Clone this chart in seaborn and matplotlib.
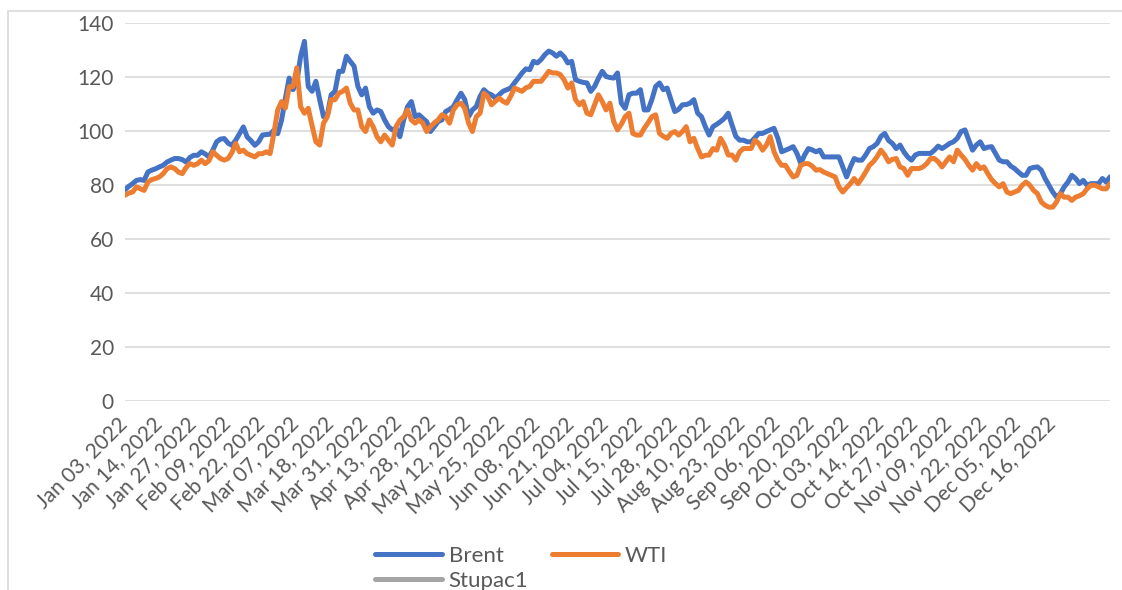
import matplotlib
matplotlib.use("Agg")
import matplotlib.pyplot as plt
import matplotlib.transforms as mtransforms
import seaborn as sns
import pandas as pd
from matplotlib.patches import Rectangle

brent = [
    78.3, 79.5, 80.5, 81.7, 82.0, 81.7, 84.8, 85.5, 86.0,
    86.7, 87.3, 88.5, 89.2, 89.8, 89.8, 89.4, 88.5, 90.2,
    91.0, 91.0, 92.3, 91.5, 90.4, 92.9, 96.0, 97.0, 97.2,
    95.5, 94.7, 96.6, 99.0, 101.5, 97.8, 96.4, 94.7, 96.0,
    98.5, 98.7, 98.8, 100.3, 99.0, 104.0, 112.0, 119.6, 115.3,
    118.0, 127.7, 133.2, 116.5, 114.7, 118.4, 111.6, 105.3, 106.0,
    113.4, 114.7, 122.1, 122.1, 127.7, 125.8, 124.0, 116.5, 113.4,
    115.9, 109.0, 106.6, 107.8, 107.2, 104.1, 101.6, 100.4, 101.0,
    97.9, 104.1, 109.0, 110.9, 105.3, 106.0, 104.7, 103.5, 99.8,
    101.6, 103.5, 104.1, 107.2, 108.0, 109.0, 111.6, 114.0, 111.6,
    105.3, 107.8, 109.0, 112.8, 115.3, 114.0, 113.4, 112.2, 113.4,
    114.7, 115.3, 115.9, 117.8, 119.6, 121.5, 123.0, 122.7, 125.8,
    125.2, 126.5, 128.3, 129.6, 128.9, 127.7, 128.9, 127.5, 125.2,
    125.8, 119.0, 118.4, 118.0, 117.8, 114.7, 116.5, 119.5, 122.1,
    120.2, 119.8, 119.6, 121.5, 110.3, 108.4, 113.4, 114.0, 114.0,
    115.3, 107.8, 107.8, 111.6, 116.5, 117.8, 115.3, 115.9, 111.6,
    107.2, 108.0, 109.7, 109.8, 110.3, 111.6, 106.6, 105.3, 101.6,
    98.5, 101.6, 102.5, 103.5, 104.7, 106.6, 102.2, 98.0, 96.6,
    96.6, 96.0, 96.0, 97.5, 99.1, 99.1, 99.8, 100.4, 101.0,
    97.3, 92.3, 92.9, 93.5, 94.2, 91.7, 88.0, 91.1, 93.5,
    93.0, 92.3, 92.9, 90.4, 90.4, 90.4, 90.4, 90.4, 86.7,
    83.0, 86.7, 89.8, 89.2, 89.2, 91.1, 93.5, 94.2, 95.4,
    98.0, 99.1, 96.5, 95.4, 93.5, 94.8, 92.3, 90.4, 89.2,
    91.1, 91.7, 91.7, 91.7, 91.7, 92.9, 94.4, 93.5, 94.4,
    95.4, 96.0, 97.3, 99.8, 100.4, 96.6, 92.9, 94.8, 96.0,
    93.5, 94.0, 94.2, 91.7, 89.2, 88.6, 88.6, 87.0, 86.1,
    84.8, 83.6, 83.6, 86.1, 86.5, 86.7, 85.5, 82.4, 79.9,
    77.4, 75.5, 76.8, 79.3, 81.1, 83.6, 82.4, 80.5, 81.7,
    79.9, 80.5, 80.5, 80.5, 82.4, 81.1, 83.0,
]

wti = [
    76.2, 77.0, 77.4, 79.3, 78.6, 78.0, 81.1, 82.0, 82.4,
    83.0, 84.2, 86.0, 86.7, 86.1, 84.8, 84.2, 86.5, 87.9,
    87.3, 87.9, 89.2, 87.9, 89.0, 92.3, 91.0, 89.8, 89.2,
    89.8, 92.0, 95.4, 92.3, 92.9, 91.6, 91.0, 90.4, 91.6,
    91.6, 92.3, 91.6, 99.1, 107.8, 110.9, 108.5, 116.4, 116.5,
    123.4, 109.0, 106.6, 108.4, 102.0, 96.0, 94.8, 102.9, 105.3,
    111.6, 111.6, 114.0, 114.7, 115.9, 110.3, 107.8, 107.8, 101.6,
    99.8, 104.1, 101.6, 97.9, 96.0, 98.5, 96.6, 94.8, 101.6,
    104.0, 105.3, 107.8, 104.1, 102.9, 104.1, 102.9, 99.8, 101.6,
    103.0, 104.1, 106.0, 105.3, 102.9, 107.8, 109.7, 110.3, 108.4,
    102.9, 99.8, 105.3, 106.6, 114.0, 112.8, 109.7, 111.0, 112.2,
    111.0, 110.3, 112.8, 115.9, 115.3, 114.7, 116.0, 116.5, 118.4,
    118.4, 118.4, 120.2, 122.1, 121.5, 121.5, 120.9, 119.0, 115.9,
    117.8, 111.6, 109.7, 110.9, 106.6, 106.0, 109.7, 113.4, 110.9,
    107.8, 110.3, 103.5, 100.4, 102.5, 105.3, 106.6, 99.1, 98.5,
    98.5, 101.0, 103.0, 105.3, 106.0, 99.1, 98.0, 97.3, 99.1,
    99.8, 98.5, 99.8, 101.6, 96.0, 97.3, 93.5, 90.4, 91.0,
    91.1, 93.5, 92.9, 97.3, 94.8, 91.1, 91.1, 89.2, 92.3,
    93.5, 93.5, 93.5, 96.6, 95.4, 92.9, 94.8, 97.9, 92.3,
    89.2, 87.3, 87.3, 85.0, 83.0, 83.6, 87.3, 87.9, 87.9,
    87.0, 85.5, 85.7, 84.8, 84.2, 83.6, 83.0, 79.3, 77.4,
    79.0, 80.5, 82.4, 80.5, 82.5, 84.8, 87.3, 88.6, 90.5,
    92.9, 91.1, 88.6, 89.5, 89.8, 86.7, 86.1, 83.6, 86.1,
    86.1, 86.1, 86.7, 87.9, 89.8, 89.8, 88.6, 86.7, 88.6,
    90.4, 88.6, 92.9, 91.1, 89.5, 87.3, 85.5, 87.9, 86.1,
    86.7, 84.2, 82.0, 80.5, 79.3, 80.5, 77.4, 76.8, 77.4,
    78.0, 79.9, 81.1, 79.9, 78.0, 76.8, 73.7, 72.5, 71.8,
    71.8, 73.7, 76.8, 75.5, 75.5, 74.3, 75.5, 76.0, 76.8,
    78.6, 79.9, 79.9, 79.3, 78.6, 78.6, 80.5,
]

tick_labels = [
    "Jan 03, 2022", "Jan 14, 2022", "Jan 27, 2022", "Feb 09, 2022",
    "Feb 22, 2022", "Mar 07, 2022", "Mar 18, 2022", "Mar 31, 2022",
    "Apr 13, 2022", "Apr 28, 2022", "May 12, 2022", "May 25, 2022",
    "Jun 08, 2022", "Jun 21, 2022", "Jul 04, 2022", "Jul 15, 2022",
    "Jul 28, 2022", "Aug 10, 2022", "Aug 23, 2022", "Sep 06, 2022",
    "Sep 20, 2022", "Oct 03, 2022", "Oct 14, 2022", "Oct 27, 2022",
    "Nov 09, 2022", "Nov 22, 2022", "Dec 05, 2022", "Dec 16, 2022",
]
tick_step = 9
y_ticks = [0, 20, 40, 60, 80, 100, 120, 140]

sns.set_theme(style="white")
plt.rcParams["font.family"] = ["Lato", "DejaVu Sans"]

n = min(len(brent), len(wti))
df = pd.DataFrame({"idx": list(range(n)), "Brent": brent[:n], "WTI": wti[:n]})

fig = plt.figure(figsize=(11.22, 5.90), dpi=100)
ax = fig.add_axes([125 / 1122, 1 - 401 / 590, (1110 - 125) / 1122, (401 - 23) / 590])

blue = "#4472C4"
orange = "#ED7D31"
gray = "#A5A5A5"
lw = 3.6

sns.lineplot(data=df, x="idx", y="Brent", ax=ax, color=blue, linewidth=lw,
             label="Brent", solid_capstyle="round", solid_joinstyle="round")
sns.lineplot(data=df, x="idx", y="WTI", ax=ax, color=orange, linewidth=lw,
             label="WTI", solid_capstyle="round", solid_joinstyle="round")
ax.plot([], [], color=gray, linewidth=lw, label="Stupac1", solid_capstyle="round")

ax.set_xlim(0, n - 1)
ax.set_ylim(0, 140)
ax.set_yticks(y_ticks)
ax.set_yticklabels([str(v) for v in y_ticks])
ax.grid(axis="y", color="#D9D9D9", linewidth=1.2)
ax.set_axisbelow(True)
for s in ax.spines.values():
    s.set_visible(False)

xt = [i * tick_step for i in range(len(tick_labels))]
ax.set_xticks(xt)
ax.tick_params(axis="x", length=0, pad=11)
ax.tick_params(axis="y", length=0, pad=8, labelsize=15, labelcolor="#595959")
ax.set_xticklabels(tick_labels, rotation=45, ha="right", rotation_mode="anchor",
                   fontsize=15, color="#595959")
shift = mtransforms.ScaledTranslation(-8 / 100, 3 / 100, fig.dpi_scale_trans)
for tk in ax.xaxis.get_major_ticks():
    tk.label1.set_transform(tk.label1.get_transform() + shift)
ax.set_xlabel("")
ax.set_ylabel("")

handles, labels = ax.get_legend_handles_labels()
order = [labels.index("Brent"), labels.index("Stupac1"), labels.index("WTI")]
leg = ax.legend([handles[i] for i in order], [labels[i] for i in order],
                ncol=2, frameon=False, loc="center", bbox_to_anchor=(0.4025, -0.443),
                fontsize=16, handlelength=3.0, columnspacing=1.05, labelspacing=0.25,
                handletextpad=0.3)
for t in leg.get_texts():
    t.set_color("#595959")

border = Rectangle((8 / 1122, -0.05), 1.2, 1 - 11 / 590 + 0.05, transform=fig.transFigure,
                   fill=False, edgecolor="#D9D9D9", linewidth=1.2)
fig.patches.append(border)

fig.savefig("out.png", dpi=100, facecolor="white")
